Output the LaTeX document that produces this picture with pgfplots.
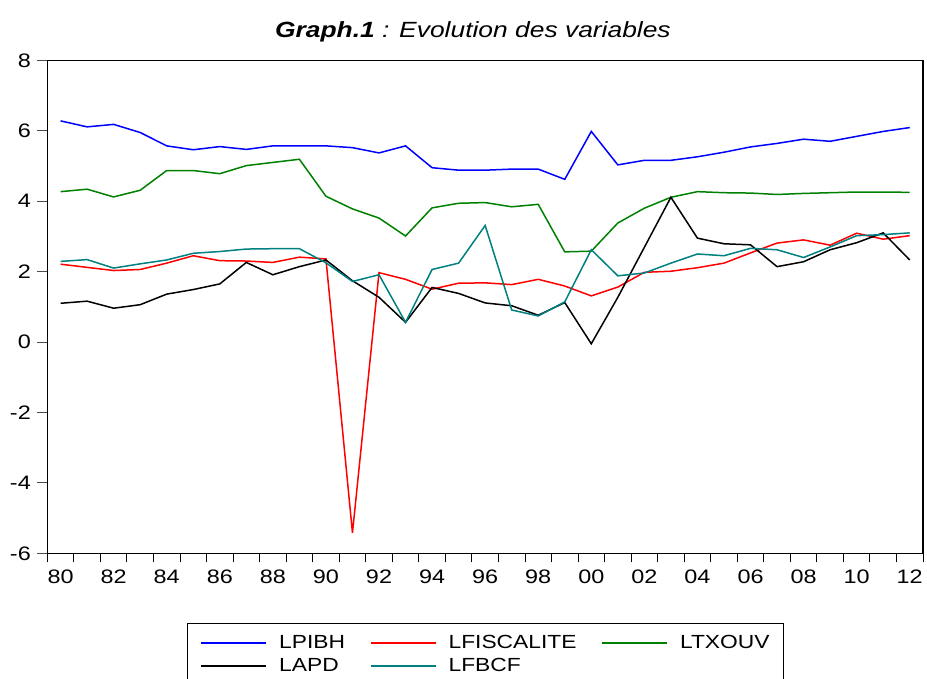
\documentclass[border=0pt]{standalone}
\usepackage{fontspec}
\usepackage{pgfplots}
\usepackage{pgfplotstable}
\pgfplotsset{compat=1.18}
\setmainfont{Liberation Sans}[FakeStretch=1.2]
\newcommand{\tickfont}{\fontsize{19.5bp}{22bp}\selectfont}
\newcommand{\legfont}{\fontsize{19bp}{22bp}\selectfont}
\newcommand{\titfont}{\fontsize{22bp}{24bp}\selectfont}
\definecolor{cblue}{RGB}{0,0,255}
\definecolor{cred}{RGB}{255,0,0}
\definecolor{cgreen}{RGB}{0,128,0}
\definecolor{cteal}{RGB}{0,128,128}

\pgfplotstableread{
year LPIBH LFISCALITE LTXOUV LAPD LFBCF
1980 6.28 2.21 4.27 1.10 2.29
1981 6.11 2.12 4.34 1.16 2.34
1982 6.18 2.03 4.12 0.96 2.10
1983 5.95 2.06 4.31 1.06 2.22
1984 5.57 2.24 4.87 1.36 2.33
1985 5.46 2.45 4.87 1.49 2.52
1986 5.55 2.31 4.78 1.65 2.57
1987 5.47 2.30 5.01 2.26 2.64
1988 5.57 2.26 5.10 1.91 2.65
1989 5.57 2.41 5.19 2.14 2.65
1990 5.57 2.36 4.14 2.33 2.25
1991 5.52 -5.42 3.78 1.74 1.72
1992 5.37 1.97 3.52 1.27 1.91
1993 5.57 1.78 3.01 0.56 0.56
1994 4.95 1.50 3.81 1.55 2.06
1995 4.88 1.67 3.94 1.38 2.24
1996 4.88 1.68 3.96 1.11 3.31
1997 4.91 1.63 3.84 1.03 0.91
1998 4.91 1.78 3.91 0.76 0.74
1999 4.62 1.59 2.56 1.12 1.14
2000 5.98 1.31 2.58 -0.05 2.62
2001 5.03 1.56 3.38 1.27 1.88
2002 5.16 1.98 3.80 2.69 1.96
2003 5.16 2.01 4.11 4.11 2.24
2004 5.26 2.11 4.27 2.95 2.50
2005 5.39 2.24 4.24 2.79 2.45
2006 5.54 2.53 4.23 2.76 2.66
2007 5.64 2.81 4.19 2.14 2.62
2008 5.76 2.90 4.22 2.28 2.40
2009 5.70 2.75 4.24 2.62 2.70
2010 5.84 3.09 4.26 2.82 3.02
2011 5.98 2.92 4.26 3.10 3.05
2012 6.09 3.02 4.25 2.33 3.10
}\datatable

\begin{document}
\begin{tikzpicture}
\useasboundingbox (-47.3bp,-125.7bp) rectangle (879.7bp,553.3bp);
\begin{axis}[
  at={(0,0)}, anchor=south west,
  scale only axis,
  width=875.7bp, height=493bp,
  xmin=1979.5, xmax=2012.5,
  ymin=-6, ymax=8,
  axis line style={line width=1.4bp},
  tick align=outside,
  xtick pos=bottom, ytick pos=left,
  xtick={1980,1982,...,2012},
  xticklabels={80,82,84,86,88,90,92,94,96,98,00,02,04,06,08,10,12},
  minor xtick={1979.5,1980.5,...,2012.5},
  major x tick style={draw=none},
  minor tick length=9bp,
  minor x tick style={line width=0.9bp, black},
  ytick={-6,-4,...,8},
  yticklabels={-6,-4,-2,0,2,4,6,8},
  major tick length=10bp,
  y tick style={line width=0.9bp, black!70},
  tick label style={font=\tickfont},
  yticklabel style={xshift=-3bp},
  xticklabel style={yshift=-3bp},
  title={\itshape\textbf{Graph.1} : Evolution des variables},
  title style={font=\titfont, at={(0.486,1)}, anchor=base, yshift=17bp},
  legend columns=3,
  legend cell align=left,
  legend style={at={(0.5,-0.1414)}, anchor=north, draw=black,
    font=\legfont, inner xsep=14bp, inner ysep=8bp,
    /tikz/every even column/.append style={column sep=25bp},
    nodes={inner xsep=0bp, inner ysep=4.2bp}},
  legend image code/.code={\draw[mark repeat=2,mark phase=2,#1] (0bp,0bp) -- (65bp,0bp); \path (77bp,0bp);},
]
\addplot[color=cblue, line width=1.5bp] table[x=year,y=LPIBH]{\datatable};
\addlegendentry{LPIBH}
\addplot[color=cred, line width=1.5bp] table[x=year,y=LFISCALITE]{\datatable};
\addlegendentry{LFISCALITE}
\addplot[color=cgreen, line width=1.5bp] table[x=year,y=LTXOUV]{\datatable};
\addlegendentry{LTXOUV}
\addplot[color=black, line width=1.5bp] table[x=year,y=LAPD]{\datatable};
\addlegendentry{LAPD}
\addplot[color=cteal, line width=1.5bp] table[x=year,y=LFBCF]{\datatable};
\addlegendentry{LFBCF}
\end{axis}
\end{tikzpicture}
\end{document}
